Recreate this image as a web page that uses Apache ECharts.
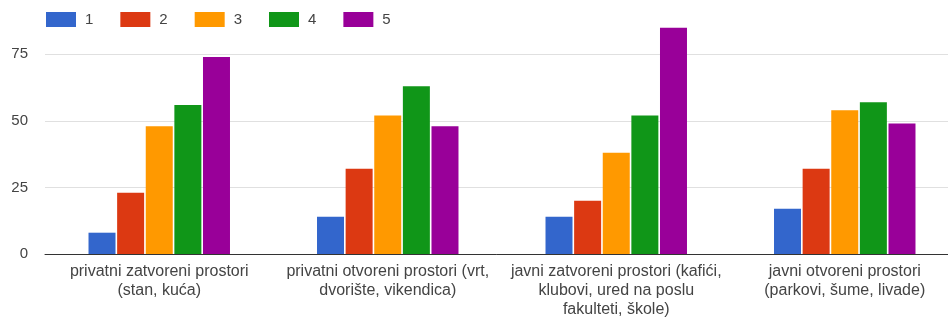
<!DOCTYPE html>
<html>
<head>
<meta charset="utf-8">
<script src="https://cdn.jsdelivr.net/npm/echarts@6/dist/echarts.min.js"></script>
<style>
  html, body { margin: 0; padding: 0; background: #fff; }
  #chart { width: 948px; height: 317px; }
</style>
</head>
<body>
<div id="chart"></div>
<script>
var categories = [
  'privatni zatvoreni prostori\n(stan, kuća)',
  'privatni otvoreni prostori (vrt,\ndvorište, vikendica)',
  'javni zatvoreni prostori (kafići,\nklubovi, ured na poslu\nfakulteti, škole)',
  'javni otvoreni prostori\n(parkovi, šume, livade)'
];
var seriesNames = ['1', '2', '3', '4', '5'];
var s1 = [8, 14, 14, 17];
var s2 = [23, 32, 20, 32];
var s3 = [48, 52, 38, 54];
var s4 = [56, 63, 52, 57];
var s5 = [74, 48, 85, 49];
var colors = ['#3366cc', '#dc3912', '#ff9900', '#109618', '#990099'];

var values = [s1, s2, s3, s4, s5];
var chart = echarts.init(document.getElementById('chart'));

var series = [];
for (var i = 0; i < values.length; i++) {
  series.push({
    name: seriesNames[i],
    type: 'bar',
    data: values[i],
    barWidth: 27,
    barGap: '6%',
    itemStyle: { color: colors[i] },
    animation: false
  });
}

chart.setOption({
  textStyle: { fontFamily: 'Liberation Sans, Arial, sans-serif' },
  color: colors,
  legend: {
    left: 41,
    top: 7,
    icon: 'rect',
    itemWidth: 30,
    itemHeight: 15,
    itemGap: 27,
    textStyle: { color: '#444', fontSize: 15, padding: [0, 0, 0, 4] },
    data: seriesNames
  },
  grid: {
    left: 45,
    right: -11,
    top: 21,
    bottom: 63,
    containLabel: false,
    outerBoundsMode: 'none'
  },
  xAxis: {
    type: 'category',
    data: categories,
    axisLine: { lineStyle: { color: '#333', width: 1 } },
    axisTick: { show: false },
    axisLabel: {
      color: '#444',
      fontSize: 16,
      lineHeight: 19,
      margin: 8,
      interval: 0
    }
  },
  yAxis: {
    type: 'value',
    min: 0,
    max: 87.5,
    interval: 25,
    axisLine: { show: false },
    axisTick: { show: false },
    axisLabel: {
      color: '#444',
      fontSize: 15,
      margin: 17,
      formatter: function (v) { return v % 25 === 0 ? String(v) : ''; }
    },
    splitLine: { showMaxLine: false, lineStyle: { color: '#e0e0e0', width: 1 } }
  },
  series: series
});
</script>
</body>
</html>
